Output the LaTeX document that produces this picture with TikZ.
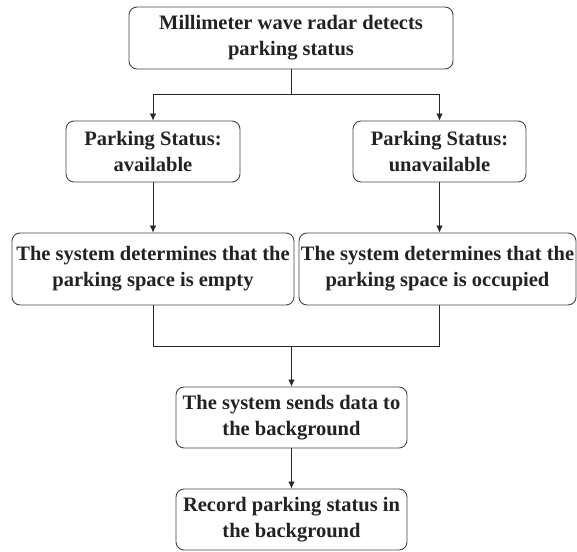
\documentclass[tikz,border=0pt]{standalone}
\usepackage{fontspec}
\setmainfont{Liberation Serif}
\usetikzlibrary{arrows.meta}
\definecolor{boxline}{HTML}{444444}
\definecolor{txt}{HTML}{222222}
\tikzset{
  flowbox/.style={draw=boxline, line width=0.9pt, rounded corners=8pt, align=center,
    inner sep=1pt, text=txt, font=\fontsize{20.5}{26}\selectfont\bfseries},
  conn/.style={draw=black!85, line width=0.8pt},
  arr/.style={conn, -{Latex[length=7pt,width=6.5pt]}}
}
\begin{document}
\begin{tikzpicture}[x=1pt,y=-1pt]
\useasboundingbox (0,0) rectangle (577,551);
\fill[white] (0,0) rectangle (577,551);
\node[flowbox, minimum width=324pt, minimum height=62pt] (top) at (291,38) {Millimeter wave radar detects\\parking status};
\node[flowbox, minimum width=174pt, minimum height=61pt] (avail) at (153,151.5) {Parking Status:\\available};
\node[flowbox, minimum width=173pt, minimum height=61pt] (unavail) at (439.5,151.5) {Parking Status:\\unavailable};
\node[flowbox, minimum width=282pt, minimum height=72pt] (detL) at (153,269) {The system determines that the\\parking space is empty};
\node[flowbox, minimum width=277pt, minimum height=72pt] (detR) at (437.5,269) {The system determines that the\\parking space is occupied};
\node[flowbox, minimum width=231pt, minimum height=61pt] (send) at (291.5,417.5) {The system sends data to\\the background};
\node[flowbox, minimum width=231pt, minimum height=61pt] (record) at (291.5,519.5) {Record parking status in\\the background};
\coordinate (j1) at (291,94);
\coordinate (j2) at (291.5,346);
\draw[conn] (top.south) -- (j1);
\draw[arr] (j1) -| (avail.north);
\draw[arr] (j1) -| (unavail.north);
\draw[arr] (avail.south) -- (detL.north -| avail.south);
\draw[arr] (unavail.south) -- (detR.north -| unavail.south);
\draw[conn] (detL.south) |- (j2);
\draw[conn] (unavail.south |- detR.south) |- (j2);
\draw[arr] (j2) -- (send.north);
\draw[arr] (send.south) -- (record.north);
\end{tikzpicture}
\end{document}
